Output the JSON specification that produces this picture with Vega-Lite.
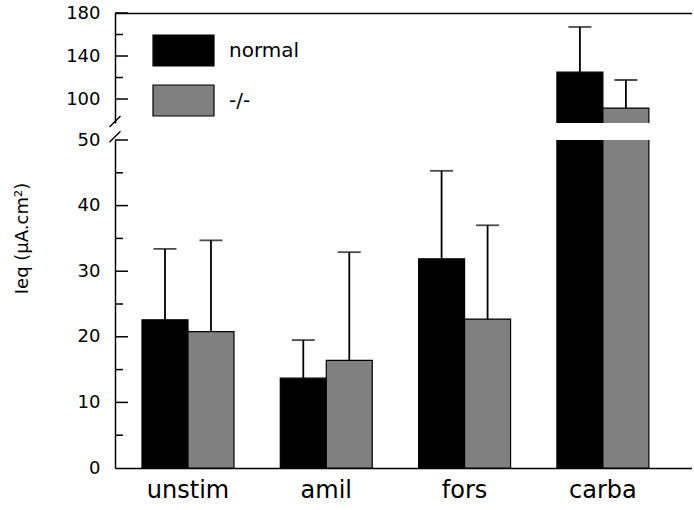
{
  "$schema": "https://vega.github.io/schema/vega-lite/v6.json",
  "background": "white",
  "padding": {"left": 12, "top": 4, "right": 0, "bottom": 0},
  "config": {
    "view": {"stroke": null},
    "font": "DejaVu Sans",
    "axis": {
      "grid": false,
      "domainColor": "black",
      "domainWidth": 1.5,
      "labelColor": "black",
      "labelFont": "DejaVu Sans",
      "titleFont": "DejaVu Sans",
      "titleColor": "black"
    }
  },
  "datasets": {
    "ieq": [
      {"stim": "unstim", "mouse": "normal", "mean": 22.6, "upper": 33.4},
      {"stim": "unstim", "mouse": "-/-", "mean": 20.8, "upper": 34.7},
      {"stim": "amil", "mouse": "normal", "mean": 13.7, "upper": 19.5},
      {"stim": "amil", "mouse": "-/-", "mean": 16.4, "upper": 32.9},
      {"stim": "fors", "mouse": "normal", "mean": 31.9, "upper": 45.3},
      {"stim": "fors", "mouse": "-/-", "mean": 22.7, "upper": 37.0},
      {"stim": "carba", "mouse": "normal", "mean": 125, "upper": 167},
      {"stim": "carba", "mouse": "-/-", "mean": 91.6, "upper": 117.7}
    ]
  },
  "bounds": "flush",
  "spacing": 17,
  "vconcat": [
    {
      "width": 577,
      "height": 110,
      "resolve": {"scale": {"x": "independent"}},
      "layer": [
        {
          "data": {"name": "ieq"},
          "encoding": {
            "x": {"field": "stim", "type": "nominal", "sort": ["unstim", "amil", "fors", "carba"],
                  "scale": {"paddingInner": 0.335, "paddingOuter": 0.2535, "align": 0.385},
                  "axis": {"orient": "top", "labels": false, "ticks": false, "title": null}},
            "xOffset": {"field": "mouse", "type": "nominal", "sort": ["normal", "-/-"],
                        "scale": {"paddingInner": 0, "paddingOuter": 0}},
            "y": {"type": "quantitative",
                  "scale": {"domain": [77.7, 180], "zero": false, "nice": false},
                  "axis": {"values": [100, 140, 180], "ticks": false,
                           "labelFontSize": 18, "labelPadding": 15, "title": null}}
          },
          "layer": [
            {
              "mark": {"type": "bar", "clip": true, "stroke": "black", "strokeWidth": 1.2},
              "encoding": {
                "y": {"field": "mean"},
                "y2": {"datum": 0},
                "color": {"field": "mouse", "type": "nominal",
                          "scale": {"domain": ["normal", "-/-"], "range": ["#000000", "#808080"]},
                          "legend": {"orient": "none", "legendX": 37, "legendY": 6, "title": null,
                                     "symbolType": "M -1 -0.508 H 1 V 0.508 H -1 Z", "symbolSize": 3721,
                                     "symbolStrokeColor": "black", "symbolStrokeWidth": 1.2, "symbolOpacity": 1,
                                     "labelFontSize": 20, "labelFont": "DejaVu Sans", "labelColor": "black",
                                     "labelOffset": 14, "rowPadding": -10, "padding": 0}}
              }
            },
            {
              "mark": {"type": "rule", "clip": true, "color": "black", "strokeWidth": 1.8},
              "encoding": {
                "y": {"field": "mean"},
                "y2": {"field": "upper"}
              }
            },
            {
              "mark": {"type": "tick", "clip": true, "color": "black", "thickness": 1.8, "size": 23},
              "encoding": {
                "y": {"field": "upper"}
              }
            }
          ]
        },
        {
          "encoding": {
            "x": {"datum": 0, "type": "quantitative", "scale": {"domain": [0, 1]}, "axis": null}
          },
          "layer": [
            {
              "data": {"values": [{"at": 79.1}]},
              "mark": {"type": "point", "shape": "M -1 1 L 1 -1", "size": 121, "filled": false,
                       "stroke": "black", "strokeWidth": 1.5, "opacity": 1},
              "encoding": {"y": {"field": "at", "type": "quantitative"}}
            },
            {
              "data": {"values": [{"v": 100}, {"v": 140}, {"v": 180}]},
              "mark": {"type": "tick", "orient": "horizontal", "size": 13, "thickness": 1.5,
                       "xOffset": 6.5, "color": "black", "opacity": 1},
              "encoding": {"y": {"field": "v", "type": "quantitative"}}
            },
            {
              "data": {"values": [{"v": 120}, {"v": 160}]},
              "mark": {"type": "tick", "orient": "horizontal", "size": 8, "thickness": 1.5,
                       "xOffset": 4, "color": "black", "opacity": 1},
              "encoding": {"y": {"field": "v", "type": "quantitative"}}
            }
          ]
        }
      ]
    },
    {
      "width": 577,
      "height": 328,
      "resolve": {"scale": {"x": "independent"}},
      "layer": [
        {
          "data": {"name": "ieq"},
          "encoding": {
            "x": {"field": "stim", "type": "nominal", "sort": ["unstim", "amil", "fors", "carba"],
                  "scale": {"paddingInner": 0.335, "paddingOuter": 0.2535, "align": 0.385},
                  "axis": {"orient": "bottom", "ticks": false, "title": null, "labelAngle": 0,
                           "labelFontSize": 24, "labelPadding": 10}},
            "xOffset": {"field": "mouse", "type": "nominal", "sort": ["normal", "-/-"],
                        "scale": {"paddingInner": 0, "paddingOuter": 0}},
            "y": {"type": "quantitative",
                  "scale": {"domain": [0, 50], "nice": false},
                  "axis": {"values": [0, 10, 20, 30, 40, 50], "ticks": false,
                           "labelFontSize": 18, "labelPadding": 15,
                           "title": "Ieq (µA.cm²)", "titleFontSize": 18, "titleFontWeight": "normal",
                           "titleX": -93, "titleY": 98, "titleAlign": "center", "titleBaseline": "middle"}}
          },
          "layer": [
            {
              "mark": {"type": "bar", "clip": true, "stroke": "black", "strokeWidth": 1.2},
              "encoding": {
                "y": {"field": "mean"},
                "y2": {"datum": 0},
                "color": {"field": "mouse", "type": "nominal"}
              }
            },
            {
              "mark": {"type": "rule", "clip": true, "color": "black", "strokeWidth": 1.8},
              "encoding": {
                "y": {"field": "mean"},
                "y2": {"field": "upper"}
              }
            },
            {
              "mark": {"type": "tick", "clip": true, "color": "black", "thickness": 1.8, "size": 23},
              "encoding": {
                "y": {"field": "upper"}
              }
            }
          ]
        },
        {
          "encoding": {
            "x": {"datum": 0, "type": "quantitative", "scale": {"domain": [0, 1]}, "axis": null}
          },
          "layer": [
            {
              "data": {"values": [{"at": 50.5}]},
              "mark": {"type": "point", "shape": "M -1 1 L 1 -1", "size": 121, "filled": false,
                       "stroke": "black", "strokeWidth": 1.5, "opacity": 1},
              "encoding": {"y": {"field": "at", "type": "quantitative"}}
            },
            {
              "data": {"values": [{"v": 10}, {"v": 20}, {"v": 30}, {"v": 40}, {"v": 50}]},
              "mark": {"type": "tick", "orient": "horizontal", "size": 13, "thickness": 1.5,
                       "xOffset": 6.5, "color": "black", "opacity": 1},
              "encoding": {"y": {"field": "v", "type": "quantitative"}}
            },
            {
              "data": {"values": [{"v": 5}, {"v": 15}, {"v": 25}, {"v": 35}, {"v": 45}]},
              "mark": {"type": "tick", "orient": "horizontal", "size": 8, "thickness": 1.5,
                       "xOffset": 4, "color": "black", "opacity": 1},
              "encoding": {"y": {"field": "v", "type": "quantitative"}}
            }
          ]
        }
      ]
    }
  ]
}
